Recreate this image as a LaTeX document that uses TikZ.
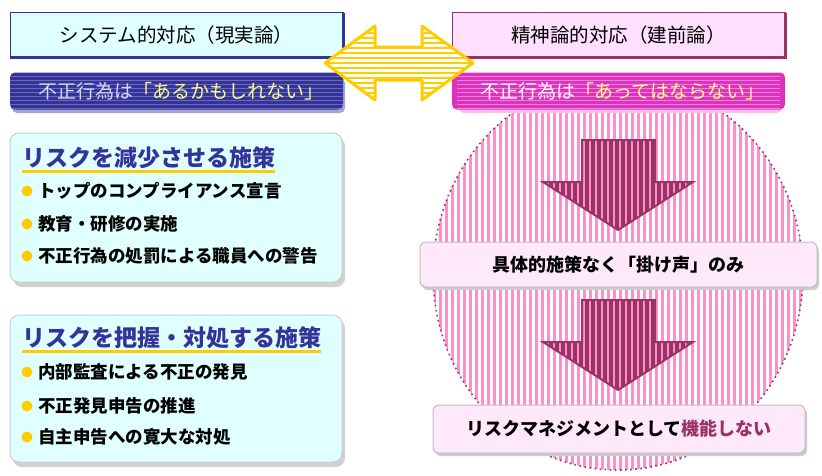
\documentclass[tikz,border=0pt]{standalone}
\usepackage{fontspec}
\setmainfont{Noto Sans CJK JP}
\usetikzlibrary{calc}
\definecolor{cyanbg}{HTML}{E0FFFF}
\definecolor{navy}{HTML}{333399}
\definecolor{navylt}{HTML}{6A6AB8}
\definecolor{plum}{HTML}{993366}
\definecolor{pinkbg}{HTML}{FFE0FF}
\definecolor{magband}{HTML}{DD33BB}
\definecolor{magbandlt}{HTML}{F080E0}
\definecolor{stripe}{HTML}{FF8FC8}
\definecolor{gold}{HTML}{FFCC00}
\definecolor{paleyellow}{HTML}{FFFF88}
\definecolor{lightpink}{HTML}{FFE8FA}
\definecolor{faint}{HTML}{D8D8F0}
\tikzset{
  topbox/.style={minimum width=333pt,minimum height=46pt,inner sep=0pt,font=\fontsize{19.5}{21}\selectfont},
  band/.style={minimum width=333pt,minimum height=37pt,inner sep=0pt,rounded corners=5pt,font=\fontsize{19}{21}\selectfont},
  bandtext/.style={inner sep=0pt,font=\fontsize{19}{21}\selectfont},
  panel/.style={fill=cyanbg,draw=black!20,line width=1pt,rounded corners=9pt},
  panelshadow/.style={fill=black!18,rounded corners=9pt},
  title/.style={anchor=west,inner xsep=0pt,inner ysep=1pt,text=navy,font=\fontsize{23}{25}\selectfont\bfseries},
  item/.style={anchor=west,inner sep=0pt,font=\fontsize{17.5}{19}\selectfont\bfseries},
  bullet/.style={fill=gold,draw=none,circle,minimum size=11pt,inner sep=0pt},
  pinkbox/.style={fill=lightpink,draw=black!25,line width=1pt,rounded corners=6pt,inner sep=0pt,font=\fontsize{18}{20}\selectfont\bfseries},
  boxshadow/.style={fill=black!20,rounded corners=6pt},
}
\begin{document}
\begin{tikzpicture}[x=1pt,y=-1pt]
\useasboundingbox (0,0) rectangle (822,475);
\fill[white] (0,0) rectangle (822,475);

% ---- striped ellipse ----
\begin{scope}
  \clip (618,274) ellipse [x radius=185, y radius=196];
  \foreach \x in {434,440,...,804} \draw[stripe,line width=3pt] (\x,70) -- (\x,475);
\end{scope}
\draw[plum,line width=1.6pt,dash pattern=on 1.6pt off 3.5pt] (618,274) ellipse [x radius=185, y radius=196];

% ---- top boxes ----
\node[topbox,fill=cyanbg,draw=navy,line width=1pt] (sysL) at (176.5,35) {システム的対応（現実論）};
\draw[navy,line width=3pt] ([yshift=-1pt]sysL.north east) -- ([yshift=1.5pt]sysL.south east) -- ([yshift=1.5pt]sysL.south west);
\node[topbox,fill=pinkbg,draw=plum,line width=1pt] (sysR) at (618.5,35) {精神論的対応（建前論）};
\draw[plum,line width=3pt] ([yshift=-1pt]sysR.north east) -- ([yshift=1.5pt]sysR.south east) -- ([yshift=1.5pt]sysR.south west);

% ---- bands ----
\fill[navylt!60,rounded corners=5pt] (12,78) rectangle (345,113);
\node[band,fill=navy] (bandL) at (176.5,91) {};
\begin{scope}
  \clip[rounded corners=5pt] (bandL.north west) rectangle (bandL.south east);
  \foreach \y in {76,80,...,110} \draw[navylt,line width=1pt] (10,\y) -- (343,\y);
\end{scope}
\node[bandtext] (bandLt) at ($(bandL.center)+(4,0)$) {\textcolor{faint}{不正行為は}\textcolor{paleyellow}{「あるかもしれない」}};

\fill[magbandlt!50,rounded corners=5pt] (459,78) rectangle (782,113);
\node[band,fill=magband] (bandR) at (618.5,91) {};
\begin{scope}
  \clip[rounded corners=5pt] (bandR.north west) rectangle (bandR.south east);
  \foreach \y in {76,80,...,110} \draw[magbandlt,line width=1pt] (457,\y) -- (780,\y);
\end{scope}
\node[bandtext] (bandRt) at ($(bandR.center)+(4,0)$) {\textcolor{white}{不正行為は}\textcolor{paleyellow}{「あってはならない」}};

% ---- double arrow ----
\coordinate (dl) at (325,63);
\coordinate (dr) at (473,63);
\def\dblarrow{(dl) -- (375,26) -- (375,47) -- (422,47) -- (422,26) -- (dr) -- (422,100) -- (422,80) -- (375,80) -- (375,100) -- cycle}
\fill[white] \dblarrow;
\begin{scope}
  \clip \dblarrow;
  \foreach \y in {28,33,...,100} \draw[gold,line width=2pt] (320,\y) -- (480,\y);
\end{scope}
\draw[gold,line width=3pt,line join=round] \dblarrow;

% ---- left panels ----
\fill[panelshadow] (13,137) rectangle (345,287);
\draw[panel] (10,133) rectangle (342,282);
\node[title] (t1) at (22,158) {リスクを減少させる施策};
\draw[gold,line width=3pt] ($(t1.south west)+(0,1)$) -- ($(t1.south east)+(0,1)$);
\node[bullet] (b11) at (27,191) {};
\node[item] (i11) at ($(b11.center)+(11,0)$) {トップのコンプライアンス宣言};
\node[bullet] (b12) at (27,224) {};
\node[item] (i12) at ($(b12.center)+(11,0)$) {教育・研修の実施};
\node[bullet] (b13) at (27,256) {};
\node[item] (i13) at ($(b13.center)+(11,0)$) {不正行為の処罰による職員への警告};

\fill[panelshadow] (13,319) rectangle (345,467);
\draw[panel] (10,315) rectangle (342,462);
\node[title] (t2) at (22,338) {リスクを把握・対処する施策};
\draw[gold,line width=3pt] ($(t2.south west)+(0,1)$) -- ($(t2.south east)+(0,1)$);
\node[bullet] (b21) at (27,372) {};
\node[item] (i21) at ($(b21.center)+(11,0)$) {内部監査による不正の発見};
\node[bullet] (b22) at (27,406) {};
\node[item] (i22) at ($(b22.center)+(11,0)$) {不正発見申告の推進};
\node[bullet] (b23) at (27,437) {};
\node[item] (i23) at ($(b23.center)+(11,0)$) {自主申告への寛大な対処};

% ---- down arrows ----
\foreach \yo in {0,160}{
  \begin{scope}[yshift=-\yo pt]
    \def\darr{(582,140) -- (655,140) -- (655,182) -- (693,182) -- (618,230) -- (543,182) -- (582,182) -- cycle}
    \fill[stripe] \darr;
    \begin{scope}
      \clip \darr;
      \foreach \x in {437,443,...,700} \draw[plum,line width=3.2pt] (\x,130) -- (\x,240);
    \end{scope}
    \draw[plum,line width=2pt,line join=miter] \darr;
  \end{scope}
}

% ---- pink boxes ----
\fill[boxshadow] (422,245) rectangle (819,290);
\node[pinkbox,minimum width=397pt,minimum height=45pt] (mid) at (618.5,264.5) {具体的施策なく「掛け声」のみ};
\fill[boxshadow] (435,408) rectangle (807,456);
\node[pinkbox,minimum width=372pt,minimum height=48pt] (bot) at (619,429) {リスクマネジメントとして\textcolor{plum}{機能しない}};
\end{tikzpicture}
\end{document}
